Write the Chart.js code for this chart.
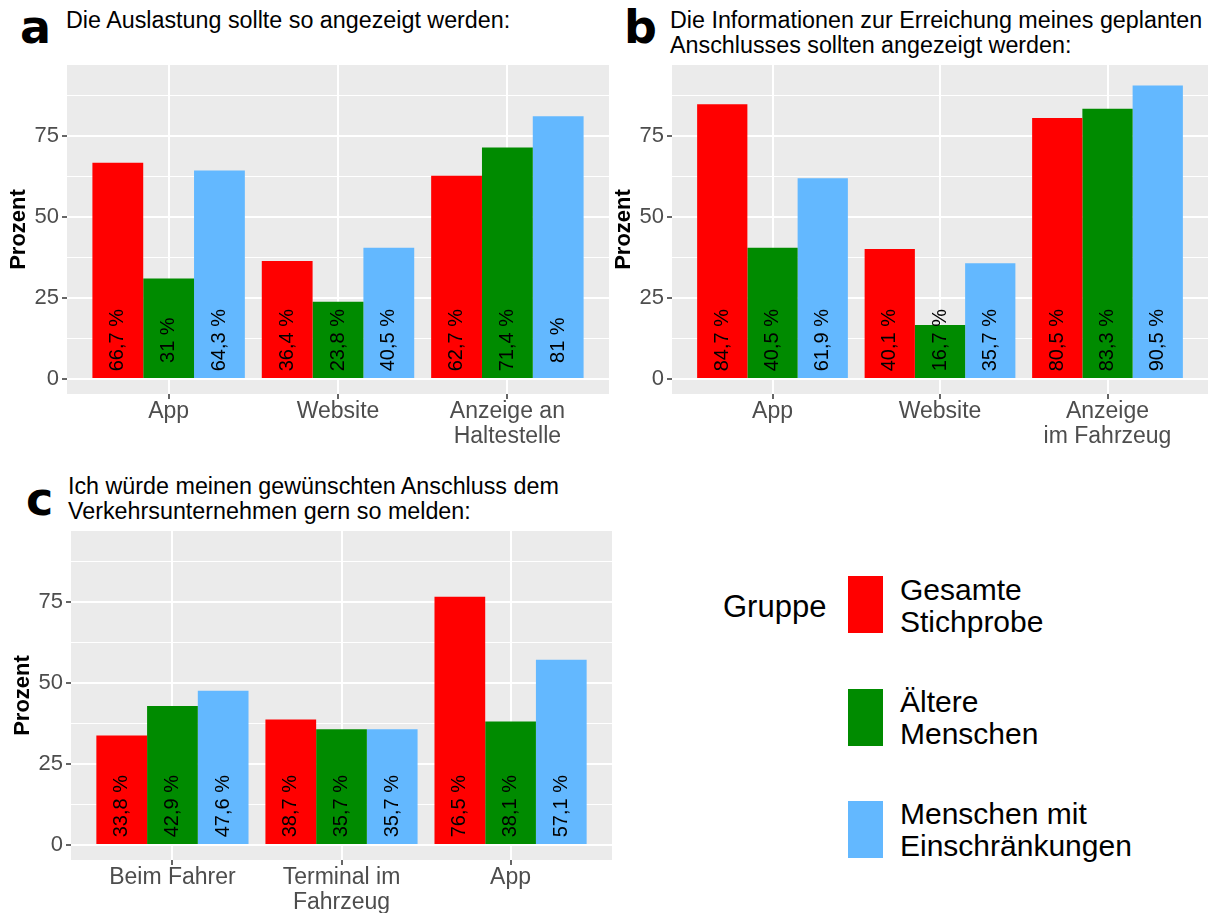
<!DOCTYPE html>
<html lang="de">
<head>
<meta charset="utf-8">
<title>Anzeige und Meldung von Anschlüssen</title>
<script src="https://cdn.jsdelivr.net/npm/chart.js@4.4.1/dist/chart.umd.min.js"></script>
<style>
  html, body { margin: 0; padding: 0; background: #fff; }
  body { width: 1210px; height: 913px; position: relative; overflow: hidden;
         font-family: "Liberation Sans", Arial, sans-serif; color: #000; }
  canvas { position: absolute; }
  .tag { position: absolute; font-family: "DejaVu Sans", sans-serif; font-weight: bold; font-size: 46px; line-height: 46px; }
  .title { position: absolute; font-size: 23.3px; line-height: 25px; white-space: nowrap; }
  .legend-title { position: absolute; font-size: 31px; line-height: 31px; }
  .key { position: absolute; width: 35px; height: 57px; }
  .key-label { position: absolute; font-size: 30px; line-height: 32px; white-space: nowrap; }
</style>
</head>
<body>
<div class="tag" style="left:20px; top:4px">a</div>
<div class="title" style="left:66px; top:8px">Die Auslastung sollte so angezeigt werden:</div>
<div class="tag" style="left:624px; top:4px">b</div>
<div class="title" style="left:670px; top:8px">Die Informationen zur Erreichung meines geplanten<br>Anschlusses sollten angezeigt werden:</div>
<div class="tag" style="left:26px; top:476px">c</div>
<div class="title" style="left:68px; top:474px">Ich würde meinen gewünschten Anschluss dem<br>Verkehrsunternehmen gern so melden:</div>

<canvas id="chartA" width="610" height="460" style="left:0px; top:0px"></canvas>
<canvas id="chartB" width="605" height="460" style="left:605px; top:0px"></canvas>
<canvas id="chartC" width="609" height="447" style="left:4px; top:466px"></canvas>

<div id="legend"></div>

<script>
// groups (legend), split the way the legend prints them
const groupLines = [['Gesamte', 'Stichprobe'], ['Ältere', 'Menschen'], ['Menschen mit', 'Einschränkungen']];
const groups = groupLines.map(l => l.join(' '));
const groupColors = ['#FF0000', '#008B00', '#63B8FF'];

// a: Auslastung
const catsA = [['App'], ['Website'], ['Anzeige an', 'Haltestelle']];
const gesamtA = [66.7, 36.4, 62.7];
const aeltereA = [31, 23.8, 71.4];
const einschrA = [64.3, 40.5, 81];

// b: Informationen zum Anschluss
const catsB = [['App'], ['Website'], ['Anzeige', 'im Fahrzeug']];
const gesamtB = [84.7, 40.1, 80.5];
const aeltereB = [40.5, 16.7, 83.3];
const einschrB = [61.9, 35.7, 90.5];

// c: Anschluss melden
const catsC = [['Beim Fahrer'], ['Terminal im', 'Fahrzeug'], ['App']];
const gesamtC = [33.8, 38.7, 76.5];
const aeltereC = [42.9, 35.7, 38.1];
const einschrC = [47.6, 35.7, 57.1];

// y axis ticks
const yMajor = [0, 25, 50, 75];
const yMinor = [12.5, 37.5, 62.5, 87.5];

Chart.defaults.font.family = '"Liberation Sans", Arial, sans-serif';

// grey ggplot panel
const panelBg = {
  id: 'panelBg',
  beforeDraw(chart) {
    const { ctx, chartArea: a } = chart;
    ctx.save();
    ctx.fillStyle = '#EBEBEB';
    ctx.fillRect(a.left, a.top, a.right - a.left, a.bottom - a.top);
    ctx.restore();
  }
};

// rotated percent labels near the bottom of each bar
const barLabels = {
  id: 'barLabels',
  afterDatasetsDraw(chart) {
    const ctx = chart.ctx;
    const y = chart.scales.y.getPixelForValue(12);
    ctx.save();
    ctx.font = '20px "Liberation Sans", Arial, sans-serif';
    ctx.fillStyle = '#000';
    ctx.textAlign = 'center';
    ctx.textBaseline = 'middle';
    chart.data.datasets.forEach((ds, i) => {
      chart.getDatasetMeta(i).data.forEach((bar, j) => {
        const txt = String(ds.data[j].y).replace('.', ',') + ' %';
        ctx.save();
        ctx.translate(bar.x, y);
        ctx.rotate(-Math.PI / 2);
        ctx.fillText(txt, 0, 0);
        ctx.restore();
      });
    });
    ctx.restore();
  }
};

function makeChart(id, cats, series, padRight, xHeight) {
  return new Chart(document.getElementById(id), {
    type: 'bar',
    data: {
      datasets: series.map((vals, k) => ({
        label: groups[k],
        data: vals.map((v, i) => ({ x: i + 1, y: v })),
        backgroundColor: groupColors[k],
        borderWidth: 0,
        categoryPercentage: 0.9,
        barPercentage: 1
      }))
    },
    options: {
      responsive: false,
      animation: false,
      events: [],
      layout: { padding: { top: 65, right: padRight, left: 0, bottom: 0 } },
      plugins: { legend: { display: false }, tooltip: { enabled: false } },
      scales: {
        x: {
          type: 'linear',
          min: 0.4,
          max: 3.6,
          offset: false,
          afterBuildTicks: s => { s.ticks = [1, 2, 3].map(v => ({ value: v })); },
          afterFit: s => { s.height = xHeight; },
          border: { display: false },
          grid: { offset: false, color: '#FFFFFF', lineWidth: 2, tickColor: '#333333', tickWidth: 1.5, tickLength: 5 },
          ticks: {
            autoSkip: false, maxRotation: 0, minRotation: 0, padding: 1,
            color: '#4D4D4D', font: { size: 23, lineHeight: 1.05 },
            callback: v => cats[v - 1]
          }
        },
        y: {
          type: 'linear',
          min: -4.6,
          max: 96.8,
          afterBuildTicks: s => {
            s.ticks = yMajor.concat(yMinor).sort((a, b) => a - b).map(v => ({ value: v }));
          },
          afterFit: s => { s.width = 67; },
          border: { display: false },
          grid: {
            color: '#FFFFFF',
            lineWidth: c => yMajor.includes(c.tick.value) ? 2 : 1,
            tickColor: c => yMajor.includes(c.tick.value) ? '#333333' : 'rgba(0,0,0,0)',
            tickWidth: 1.5,
            tickLength: 5
          },
          ticks: {
            padding: 3, color: '#4D4D4D', font: { size: 22 },
            callback: v => yMajor.includes(v) ? String(v) : ''
          },
          title: {
            display: true, text: 'Prozent', color: '#000',
            font: { size: 22, weight: 'bold' }, padding: { top: 6, bottom: 0 }
          }
        }
      }
    },
    plugins: [panelBg, barLabels]
  });
}

makeChart('chartA', catsA, [gesamtA, aeltereA, einschrA], 1, 66);
makeChart('chartB', catsB, [gesamtB, aeltereB, einschrB], 2, 66);
makeChart('chartC', catsC, [gesamtC, aeltereC, einschrC], 1, 53);

// legend "Gruppe"
const legend = document.getElementById('legend');
const head = document.createElement('div');
head.className = 'legend-title';
head.style.left = '723px';
head.style.top = '591px';
head.textContent = 'Gruppe';
legend.appendChild(head);
groupLines.forEach((lines, k) => {
  const key = document.createElement('div');
  key.className = 'key';
  key.style.left = '848px';
  key.style.top = (576 + k * 112.5) + 'px';
  key.style.background = groupColors[k];
  legend.appendChild(key);
  const lab = document.createElement('div');
  lab.className = 'key-label';
  lab.style.left = '900px';
  lab.style.top = (574 + k * 112) + 'px';
  lab.innerHTML = lines.join('<br>');
  legend.appendChild(lab);
});
</script>
</body>
</html>
